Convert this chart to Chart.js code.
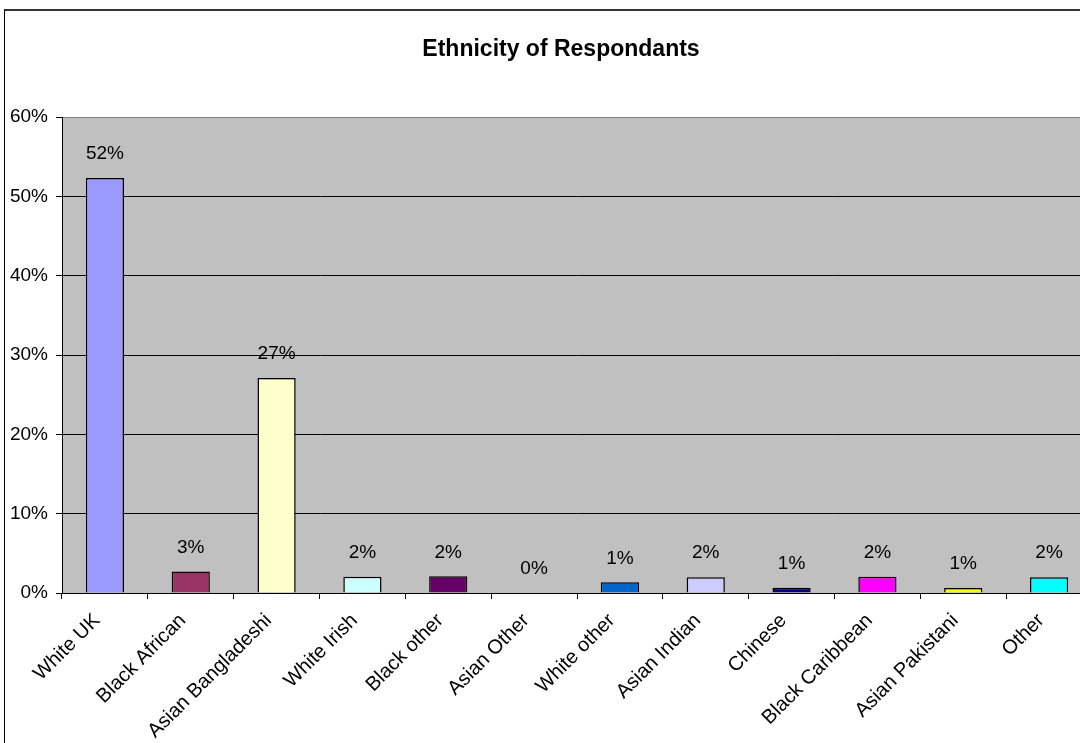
<!DOCTYPE html>
<html>
<head>
<meta charset="utf-8">
<script src="https://cdn.jsdelivr.net/npm/chart.js@4.4.1/dist/chart.umd.min.js"></script>
<style>
  html, body { margin: 0; padding: 0; background: #fff; overflow: hidden; width: 1080px; height: 743px; }
  #frame { position: absolute; left: 4px; top: 9px; width: 1200px; height: 800px; border-left: 1px solid #000; border-top: 2px solid #333; box-sizing: border-box; }
  #c { position: absolute; left: 0px; top: -1px; }
</style>
</head>
<body>
<div id="frame"><canvas id="c" width="1142" height="733"></canvas></div>
<script>
const categories = ["White UK", "Black African", "Asian Bangladeshi", "White Irish", "Black other", "Asian Other", "White other", "Asian Indian", "Chinese", "Black Caribbean", "Asian Pakistani", "Other"];
const values = [52.3, 2.7, 27.1, 2.05, 2.1, 0, 1.35, 2.0, 0.67, 2.05, 0.63, 2.0];
const barColors = ["#9999FF", "#993366", "#FFFFCC", "#CCFFFF", "#660066", "#FF8080", "#0066CC", "#CCCCFF", "#000080", "#FF00FF", "#FFFF00", "#00FFFF"];
const yTicks = [0, 10, 20, 30, 40, 50, 60];
const titleText = "Ethnicity of Respondants";
const FONT = "'Liberation Sans', Arial, sans-serif";

const plotBg = {
  id: 'plotBg',
  beforeDraw(chart) {
    const a = chart.chartArea, ctx = chart.ctx;
    ctx.save();
    ctx.fillStyle = '#C0C0C0';
    ctx.fillRect(a.left, a.top, a.right - a.left, a.bottom - a.top);
    ctx.restore();
  }
};
const chartTitle = {
  id: 'chartTitle',
  afterDraw(chart) {
    const ctx = chart.ctx;
    ctx.save();
    ctx.font = 'bold 23px ' + FONT;
    ctx.fillStyle = '#000';
    ctx.textAlign = 'center';
    ctx.textBaseline = 'alphabetic';
    ctx.fillText(titleText, 556, 46);
    ctx.restore();
  }
};
const dataLabels = {
  id: 'dataLabels',
  afterDatasetsDraw(chart) {
    const ctx = chart.ctx;
    const meta = chart.getDatasetMeta(0);
    ctx.save();
    ctx.font = '19px ' + FONT;
    ctx.fillStyle = '#000';
    ctx.textAlign = 'center';
    ctx.textBaseline = 'middle';
    meta.data.forEach((bar, i) => {
      const v = chart.data.datasets[0].data[i];
      ctx.fillText(Math.round(v) + '%', bar.x, bar.y - 24);
    });
    ctx.restore();
  }
};

new Chart(document.getElementById('c'), {
  type: 'bar',
  data: {
    labels: categories,
    datasets: [{
      data: values,
      backgroundColor: barColors,
      borderColor: '#000',
      borderWidth: 1.5,
      barPercentage: 0.445,
      categoryPercentage: 1.0
    }]
  },
  options: {
    responsive: false,
    devicePixelRatio: 1,
    animation: false,
    layout: { padding: { left: 0, right: 55, top: 107, bottom: 0 } },
    plugins: {
      legend: { display: false },
      tooltip: { enabled: false },
      title: { display: false }
    },
    scales: {
      x: {
        grid: { display: true, drawOnChartArea: false, drawTicks: true, tickLength: 6, color: '#000', offset: true },
        border: { display: true, color: '#000', width: 1 },
        ticks: { color: '#000', font: { family: FONT, size: 20 }, minRotation: 45, maxRotation: 45, autoSkip: false, padding: 10, labelOffset: -8 },
        afterFit(scale) { scale.height = 150; }
      },
      y: {
        min: 0, max: 60,
        afterBuildTicks(scale) { scale.ticks = yTicks.map(v => ({ value: v })); },
        grid: {
          drawTicks: true, tickLength: 6,
          color: ctx => (ctx.tick && ctx.tick.value === 60) ? '#808080' : '#000',
          tickColor: '#000'
        },
        border: { display: true, color: '#000', width: 1 },
        ticks: { color: '#000', font: { family: FONT, size: 19 }, padding: 8, callback: v => v + '%' },
        afterFit(scale) { scale.width = 57; }
      }
    }
  },
  plugins: [plotBg, dataLabels, chartTitle]
});
</script>
</body>
</html>
